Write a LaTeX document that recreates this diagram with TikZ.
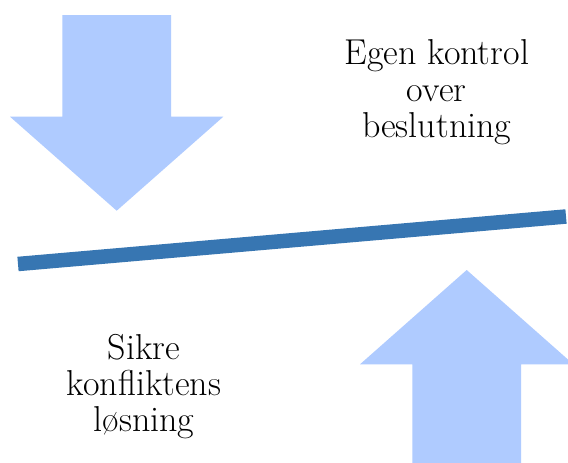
\documentclass[tikz,border=0pt]{standalone}
\usepackage{tikz}
\definecolor{arrowblue}{RGB}{175,203,255}
\definecolor{beamblue}{RGB}{55,118,178}
\tikzset{
  bigarrow/.style={fill=arrowblue, draw=none},
  beam/.style={draw=beamblue, line width=14.5pt, line cap=butt},
  label/.style={align=center, inner sep=0pt, anchor=base,
    font=\fontsize{36}{36.3}\selectfont}
}
\begin{document}
\begin{tikzpicture}[x=1pt,y=-1pt]
\clip (0,0) rectangle (568,463);
\fill[white] (0,0) rectangle (568,463);
% down arrow
\fill[bigarrow] (62.3,15) -- (171,15) -- (171,116.7) -- (223.3,116.7)
  -- (116.7,210.7) -- (10,116.7) -- (62.3,116.7) -- cycle;
% up arrow
\fill[bigarrow] (412.3,475) -- (521,475) -- (521,364.3) -- (573.4,364.3)
  -- (466.7,270) -- (360,364.3) -- (412.3,364.3) -- cycle;
% beam
\coordinate (beamL) at (18,264);
\coordinate (beamR) at (566,216.5);
\draw[beam] (beamL) -- (beamR);
% labels (base anchor = baseline of last line)
\node[label] (top) at (436.7,137.5) {Egen kontrol\\over\\beslutning};
\node[label] (bottom) at (144,431.7) {Sikre\\konfliktens\\løsning};
\end{tikzpicture}
\end{document}
